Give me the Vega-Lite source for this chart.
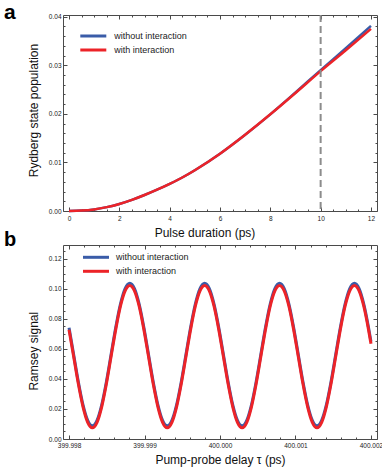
{
  "$schema": "https://vega.github.io/schema/vega-lite/v6.json",
  "padding": {"left": 3, "top": 1, "right": 6, "bottom": 2},
  "background": "white",
  "config": {
    "font": "Liberation Sans",
    "view": {"stroke": "#4a4a4a", "strokeWidth": 1},
    "axis": {
      "grid": false,
      "domain": false,
      "labelFont": "Liberation Sans",
      "labelFontSize": 6.5,
      "labelColor": "#222222",
      "labelFlush": false,
      "labelOverlap": false,
      "labelBound": false,
      "tickColor": "#4a4a4a",
      "tickWidth": 1,
      "titleFont": "Liberation Sans",
      "titleFontSize": 12,
      "titleFontWeight": "normal",
      "titleColor": "#111111"
    },
    "legend": {
      "labelFont": "Liberation Sans",
      "labelFontSize": 9,
      "labelColor": "#222222",
      "symbolType": "M-2,0H2",
      "symbolSize": 169,
      "symbolStrokeWidth": 3,
      "padding": 0
    },
    "concat": {"spacing": -10}
  },
  "resolve": {"scale": {"color": "independent"}, "legend": {"color": "independent"}},
  "datasets": {
    "pop": [
      {"t": 0, "without interaction": 0, "with interaction": 0},
      {"t": 0.5, "without interaction": 0.00008, "with interaction": 0.00008},
      {"t": 1, "without interaction": 0.00033, "with interaction": 0.00033},
      {"t": 1.5, "without interaction": 0.0008, "with interaction": 0.0008},
      {"t": 2, "without interaction": 0.00145, "with interaction": 0.00145},
      {"t": 2.5, "without interaction": 0.0023, "with interaction": 0.0023},
      {"t": 3, "without interaction": 0.0033, "with interaction": 0.0033},
      {"t": 3.5, "without interaction": 0.0044, "with interaction": 0.0044},
      {"t": 4, "without interaction": 0.0056, "with interaction": 0.0056},
      {"t": 4.5, "without interaction": 0.0069, "with interaction": 0.0069},
      {"t": 5, "without interaction": 0.0084, "with interaction": 0.0084},
      {"t": 6, "without interaction": 0.0118, "with interaction": 0.0118},
      {"t": 7, "without interaction": 0.0157, "with interaction": 0.0157},
      {"t": 8, "without interaction": 0.0199, "with interaction": 0.0199},
      {"t": 9, "without interaction": 0.0244, "with interaction": 0.0243},
      {"t": 10, "without interaction": 0.029, "with interaction": 0.0288},
      {"t": 11, "without interaction": 0.0335, "with interaction": 0.0331},
      {"t": 12, "without interaction": 0.0381, "with interaction": 0.0375}
    ],
    "ramsey": [
      {"tau": 399.998, "without interaction": 0.074, "with interaction": 0.0726},
      {"tau": 399.998061, "without interaction": 0.0562, "with interaction": 0.0548},
      {"tau": 399.998123, "without interaction": 0.0381, "with interaction": 0.0367},
      {"tau": 399.998185, "without interaction": 0.0227, "with interaction": 0.0214},
      {"tau": 399.998247, "without interaction": 0.0124, "with interaction": 0.0111},
      {"tau": 399.998309, "without interaction": 0.0088, "with interaction": 0.0075},
      {"tau": 399.998371, "without interaction": 0.0124, "with interaction": 0.0111},
      {"tau": 399.998433, "without interaction": 0.0227, "with interaction": 0.0214},
      {"tau": 399.998495, "without interaction": 0.0381, "with interaction": 0.0367},
      {"tau": 399.998557, "without interaction": 0.0562, "with interaction": 0.0548},
      {"tau": 399.998619, "without interaction": 0.0743, "with interaction": 0.0729},
      {"tau": 399.998681, "without interaction": 0.0897, "with interaction": 0.0883},
      {"tau": 399.998743, "without interaction": 0.1, "with interaction": 0.0985},
      {"tau": 399.998805, "without interaction": 0.1036, "with interaction": 0.1021},
      {"tau": 399.998867, "without interaction": 0.1, "with interaction": 0.0985},
      {"tau": 399.998929, "without interaction": 0.0897, "with interaction": 0.0883},
      {"tau": 399.998991, "without interaction": 0.0743, "with interaction": 0.0729},
      {"tau": 399.999053, "without interaction": 0.0562, "with interaction": 0.0548},
      {"tau": 399.999115, "without interaction": 0.0381, "with interaction": 0.0367},
      {"tau": 399.999177, "without interaction": 0.0227, "with interaction": 0.0214},
      {"tau": 399.999239, "without interaction": 0.0124, "with interaction": 0.0111},
      {"tau": 399.999301, "without interaction": 0.0088, "with interaction": 0.0075},
      {"tau": 399.999363, "without interaction": 0.0124, "with interaction": 0.0111},
      {"tau": 399.999425, "without interaction": 0.0227, "with interaction": 0.0214},
      {"tau": 399.999487, "without interaction": 0.0381, "with interaction": 0.0367},
      {"tau": 399.999549, "without interaction": 0.0562, "with interaction": 0.0548},
      {"tau": 399.999611, "without interaction": 0.0743, "with interaction": 0.0729},
      {"tau": 399.999673, "without interaction": 0.0897, "with interaction": 0.0883},
      {"tau": 399.999735, "without interaction": 0.1, "with interaction": 0.0985},
      {"tau": 399.999797, "without interaction": 0.1036, "with interaction": 0.1021},
      {"tau": 399.999859, "without interaction": 0.1, "with interaction": 0.0985},
      {"tau": 399.999921, "without interaction": 0.0897, "with interaction": 0.0883},
      {"tau": 399.999983, "without interaction": 0.0743, "with interaction": 0.0729},
      {"tau": 400.000045, "without interaction": 0.0562, "with interaction": 0.0548},
      {"tau": 400.000107, "without interaction": 0.0381, "with interaction": 0.0367},
      {"tau": 400.000169, "without interaction": 0.0227, "with interaction": 0.0214},
      {"tau": 400.000231, "without interaction": 0.0124, "with interaction": 0.0111},
      {"tau": 400.000293, "without interaction": 0.0088, "with interaction": 0.0075},
      {"tau": 400.000355, "without interaction": 0.0124, "with interaction": 0.0111},
      {"tau": 400.000417, "without interaction": 0.0227, "with interaction": 0.0214},
      {"tau": 400.000479, "without interaction": 0.0381, "with interaction": 0.0367},
      {"tau": 400.000541, "without interaction": 0.0562, "with interaction": 0.0548},
      {"tau": 400.000603, "without interaction": 0.0743, "with interaction": 0.0729},
      {"tau": 400.000665, "without interaction": 0.0897, "with interaction": 0.0883},
      {"tau": 400.000727, "without interaction": 0.1, "with interaction": 0.0985},
      {"tau": 400.000789, "without interaction": 0.1036, "with interaction": 0.1021},
      {"tau": 400.000851, "without interaction": 0.1, "with interaction": 0.0985},
      {"tau": 400.000913, "without interaction": 0.0897, "with interaction": 0.0883},
      {"tau": 400.000975, "without interaction": 0.0743, "with interaction": 0.0729},
      {"tau": 400.001037, "without interaction": 0.0562, "with interaction": 0.0548},
      {"tau": 400.001099, "without interaction": 0.0381, "with interaction": 0.0367},
      {"tau": 400.001161, "without interaction": 0.0227, "with interaction": 0.0214},
      {"tau": 400.001223, "without interaction": 0.0124, "with interaction": 0.0111},
      {"tau": 400.001285, "without interaction": 0.0088, "with interaction": 0.0075},
      {"tau": 400.001347, "without interaction": 0.0124, "with interaction": 0.0111},
      {"tau": 400.001409, "without interaction": 0.0227, "with interaction": 0.0214},
      {"tau": 400.001471, "without interaction": 0.0381, "with interaction": 0.0367},
      {"tau": 400.001533, "without interaction": 0.0562, "with interaction": 0.0548},
      {"tau": 400.001595, "without interaction": 0.0743, "with interaction": 0.0729},
      {"tau": 400.001657, "without interaction": 0.0897, "with interaction": 0.0883},
      {"tau": 400.001719, "without interaction": 0.1, "with interaction": 0.0985},
      {"tau": 400.001781, "without interaction": 0.1036, "with interaction": 0.1021},
      {"tau": 400.001843, "without interaction": 0.1, "with interaction": 0.0985},
      {"tau": 400.001905, "without interaction": 0.0897, "with interaction": 0.0883},
      {"tau": 400.001967, "without interaction": 0.0743, "with interaction": 0.0729},
      {"tau": 400.002, "without interaction": 0.0648, "with interaction": 0.0634}
    ]
  },
  "vconcat": [
    {
      "title": {"text": "a", "anchor": "start", "frame": "group", "orient": "top", "fontSize": 21, "fontWeight": "bold", "font": "Liberation Sans", "color": "#000000", "dx": -59, "dy": 9, "offset": 0},
      "width": 314,
      "height": 196,
      "data": {"name": "pop"},
      "layer": [
        {
          "transform": [{"fold": ["without interaction", "with interaction"], "as": ["series", "value"]}],
          "mark": {"type": "line", "strokeWidth": 2.5, "interpolate": "monotone"},
          "encoding": {
            "x": {"field": "t", "type": "quantitative", "scale": {"domain": [-0.24, 12.24], "nice": false, "zero": false},
                  "axis": {"orient": "bottom", "values": [0, 2, 4, 6, 8, 10, 12], "format": "d", "tickSize": -4, "labelPadding": 8, "title": "Pulse duration (ps)", "titleX": 141.5, "titlePadding": 6}},
            "y": {"field": "value", "type": "quantitative", "scale": {"domain": [0, 0.04035], "nice": false, "zero": false},
                  "axis": {"orient": "left", "values": [0, 0.01, 0.02, 0.03, 0.04], "format": ".2f", "tickSize": -4, "labelPadding": 6, "title": "Rydberg state population", "titleY": 95, "titlePadding": 8}},
            "color": {"field": "series", "type": "nominal",
                      "scale": {"domain": ["without interaction", "with interaction"], "range": ["#3a5ca8", "#ec2328"]},
                      "legend": {"title": null, "orient": "none", "legendX": 22.3, "legendY": 13, "labelOffset": 13, "rowPadding": -1}}
          }
        },
        {
          "data": {"values": [{"t": 10}]},
          "mark": {"type": "rule", "color": "#8c8c8c", "strokeWidth": 2, "strokeDash": [7, 4]},
          "encoding": {"x": {"field": "t", "type": "quantitative", "axis": null}}
        },
        {
          "mark": {"type": "line", "opacity": 0},
          "encoding": {
            "x": {"field": "t", "type": "quantitative", "axis": {"orient": "bottom", "values": [0.5, 1, 1.5, 2.5, 3, 3.5, 4.5, 5, 5.5, 6.5, 7, 7.5, 8.5, 9, 9.5, 10.5, 11, 11.5], "labels": false, "tickSize": -2, "title": null}},
            "y": {"field": "without interaction", "type": "quantitative", "axis": {"orient": "left", "values": [0.002, 0.004, 0.006, 0.008, 0.012, 0.014, 0.016, 0.018, 0.022, 0.024, 0.026, 0.028, 0.032, 0.034, 0.036, 0.038], "labels": false, "tickSize": -2, "title": null}}
          }
        },
        {
          "mark": {"type": "line", "opacity": 0},
          "encoding": {
            "x": {"field": "t", "type": "quantitative", "axis": {"orient": "top", "values": [0, 2, 4, 6, 8, 10, 12], "labels": false, "tickSize": -4, "title": null}},
            "y": {"field": "without interaction", "type": "quantitative", "axis": {"orient": "right", "values": [0, 0.01, 0.02, 0.03, 0.04], "labels": false, "tickSize": -4, "title": null}}
          }
        },
        {
          "mark": {"type": "line", "opacity": 0},
          "encoding": {
            "x": {"field": "t", "type": "quantitative", "axis": {"orient": "top", "values": [0.5, 1, 1.5, 2.5, 3, 3.5, 4.5, 5, 5.5, 6.5, 7, 7.5, 8.5, 9, 9.5, 10.5, 11, 11.5], "labels": false, "tickSize": -2, "title": null}},
            "y": {"field": "without interaction", "type": "quantitative", "axis": {"orient": "right", "values": [0.002, 0.004, 0.006, 0.008, 0.012, 0.014, 0.016, 0.018, 0.022, 0.024, 0.026, 0.028, 0.032, 0.034, 0.036, 0.038], "labels": false, "tickSize": -2, "title": null}}
          }
        }
      ],
      "resolve": {"axis": {"x": "independent", "y": "independent"}}
    },
    {
      "title": {"text": "b", "anchor": "start", "frame": "group", "orient": "top", "fontSize": 20, "fontWeight": "bold", "font": "Liberation Sans", "color": "#000000", "dx": -59, "dy": 5.4, "offset": 0},
      "width": 314,
      "height": 194,
      "data": {"name": "ramsey"},
      "layer": [
        {
          "transform": [{"fold": ["without interaction", "with interaction"], "as": ["series", "value"]}],
          "mark": {"type": "line", "strokeWidth": 3, "interpolate": "monotone"},
          "encoding": {
            "x": {"field": "tau", "type": "quantitative", "scale": {"domain": [399.99792, 400.00208], "nice": false, "zero": false},
                  "axis": {"orient": "bottom", "values": [399.998, 399.999, 400, 400.001, 400.002], "format": ".3f", "tickSize": -4, "labelPadding": 7, "title": "Pump-probe delay τ (ps)", "titlePadding": 6}},
            "y": {"field": "value", "type": "quantitative", "scale": {"domain": [0, 0.129], "nice": false, "zero": false},
                  "axis": {"orient": "left", "values": [0, 0.02, 0.04, 0.06, 0.08, 0.1, 0.12], "format": ".2f", "tickSize": -4, "labelPadding": 6, "title": "Ramsey signal", "titleY": 105.7, "titlePadding": 8}},
            "color": {"field": "series", "type": "nominal",
                      "scale": {"domain": ["without interaction", "with interaction"], "range": ["#3a5ca8", "#ec2328"]},
                      "legend": {"title": null, "orient": "none", "legendX": 25, "legendY": 4.3, "labelOffset": 12, "rowPadding": -1.6}}
          }
        },
        {
          "mark": {"type": "line", "opacity": 0},
          "encoding": {
            "x": {"field": "tau", "type": "quantitative", "axis": {"orient": "bottom", "values": [399.9982, 399.9984, 399.9986, 399.9988, 399.9992, 399.9994, 399.9996, 399.9998, 400.0002, 400.0004, 400.0006, 400.0008, 400.0012, 400.0014, 400.0016, 400.0018], "labels": false, "tickSize": -2, "title": null}},
            "y": {"field": "without interaction", "type": "quantitative", "axis": {"orient": "left", "values": [0.005, 0.01, 0.015, 0.025, 0.03, 0.035, 0.045, 0.05, 0.055, 0.065, 0.07, 0.075, 0.085, 0.09, 0.095, 0.105, 0.11, 0.115, 0.125], "labels": false, "tickSize": -2, "title": null}}
          }
        },
        {
          "mark": {"type": "line", "opacity": 0},
          "encoding": {
            "x": {"field": "tau", "type": "quantitative", "axis": {"orient": "top", "values": [399.998, 399.999, 400, 400.001, 400.002], "labels": false, "tickSize": -4, "title": null}},
            "y": {"field": "without interaction", "type": "quantitative", "axis": {"orient": "right", "values": [0, 0.02, 0.04, 0.06, 0.08, 0.1, 0.12], "labels": false, "tickSize": -4, "title": null}}
          }
        },
        {
          "mark": {"type": "line", "opacity": 0},
          "encoding": {
            "x": {"field": "tau", "type": "quantitative", "axis": {"orient": "top", "values": [399.9982, 399.9984, 399.9986, 399.9988, 399.9992, 399.9994, 399.9996, 399.9998, 400.0002, 400.0004, 400.0006, 400.0008, 400.0012, 400.0014, 400.0016, 400.0018], "labels": false, "tickSize": -2, "title": null}},
            "y": {"field": "without interaction", "type": "quantitative", "axis": {"orient": "right", "values": [0.005, 0.01, 0.015, 0.025, 0.03, 0.035, 0.045, 0.05, 0.055, 0.065, 0.07, 0.075, 0.085, 0.09, 0.095, 0.105, 0.11, 0.115, 0.125], "labels": false, "tickSize": -2, "title": null}}
          }
        }
      ],
      "resolve": {"axis": {"x": "independent", "y": "independent"}}
    }
  ]
}
